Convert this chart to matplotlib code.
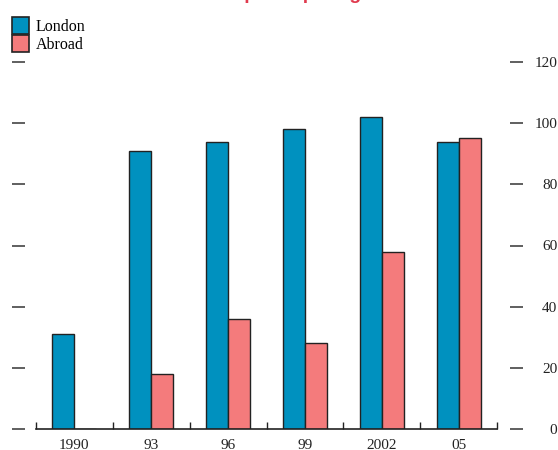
import matplotlib
matplotlib.use("Agg")
from matplotlib import pyplot as plt
from matplotlib.patches import Patch
import numpy as np

years = ["1990", "93", "96", "99", "2002", "05"]
london = [31, 91, 94, 98, 102, 94]
abroad = [0, 18, 36, 28, 58, 95]
y_ticks = [0, 20, 40, 60, 80, 100, 120]

blue = "#0091bf"
pink = "#f47b7c"
red = "#e03a4e"
edge = "#222222"

plt.rcParams["font.family"] = ["Liberation Serif", "DejaVu Serif"]

fig = plt.figure(figsize=(5.58, 4.5), dpi=100)
ax = fig.add_axes([36 / 558, 1 - 429 / 450, (497 - 36) / 558, (429 - 62) / 450])

x = np.arange(len(years))
w = 0.286
ax.bar(x - w / 2, london, width=w, color=blue, edgecolor=edge, linewidth=1.0, label="London")
ax.bar(x + w / 2, abroad, width=w, color=pink, edgecolor=edge, linewidth=1.0, label="Abroad")

ax.set_xlim(-0.5, len(years) - 0.5)
ax.set_ylim(0, 120)

# x axis: small upward ticks between groups, year labels in the middle
ax.set_xticks(np.arange(-0.5, len(years)), labels=[])
ax.set_xticks(x, labels=years, minor=True)
ax.tick_params(axis="x", which="major", direction="in", length=5, width=1, color=edge)
ax.tick_params(axis="x", which="minor", length=0, pad=7.5, labelsize=11, labelcolor="#222222")

# y axis: detached dashes on both sides, numbers on the right only
ax.set_yticks(y_ticks)
ax.yaxis.set_ticks_position("both")
ax.spines["left"].set_position(("outward", 8))
ax.spines["right"].set_position(("outward", 9.5))
ax.tick_params(axis="y", which="major", direction="out", length=9.5, width=1.2,
               color="#444444", left=True, right=True, labelleft=False, labelright=True,
               pad=24.5, labelsize=11, labelcolor="#222222")
for lab in ax.get_yticklabels():
    lab.set_horizontalalignment("right")

for side in ["top", "left", "right"]:
    ax.spines[side].set_visible(False)
ax.spines["bottom"].set_color(edge)
ax.spines["bottom"].set_linewidth(1.2)

handles = [Patch(facecolor=blue, edgecolor=edge, linewidth=1.2, label="London"),
           Patch(facecolor=pink, edgecolor=edge, linewidth=1.2, label="Abroad")]
fig.legend(handles=handles, loc="upper left", bbox_to_anchor=(12 / 558, 1 - 17 / 450),
           frameon=False, fontsize=11.5, handlelength=1.05, handleheight=1.3,
           handletextpad=0.45, labelspacing=0.0, borderpad=0, borderaxespad=0)

# headline sits above the top edge, only its descenders show
fig.text(36 / 558, 1 + 1 / 450, "Number of orchestras participating in the Proms",
         color=red, fontsize=14, fontweight="bold", family=["Liberation Sans", "DejaVu Sans"],
         ha="left", va="baseline")

fig.savefig("out.png", dpi=100)
